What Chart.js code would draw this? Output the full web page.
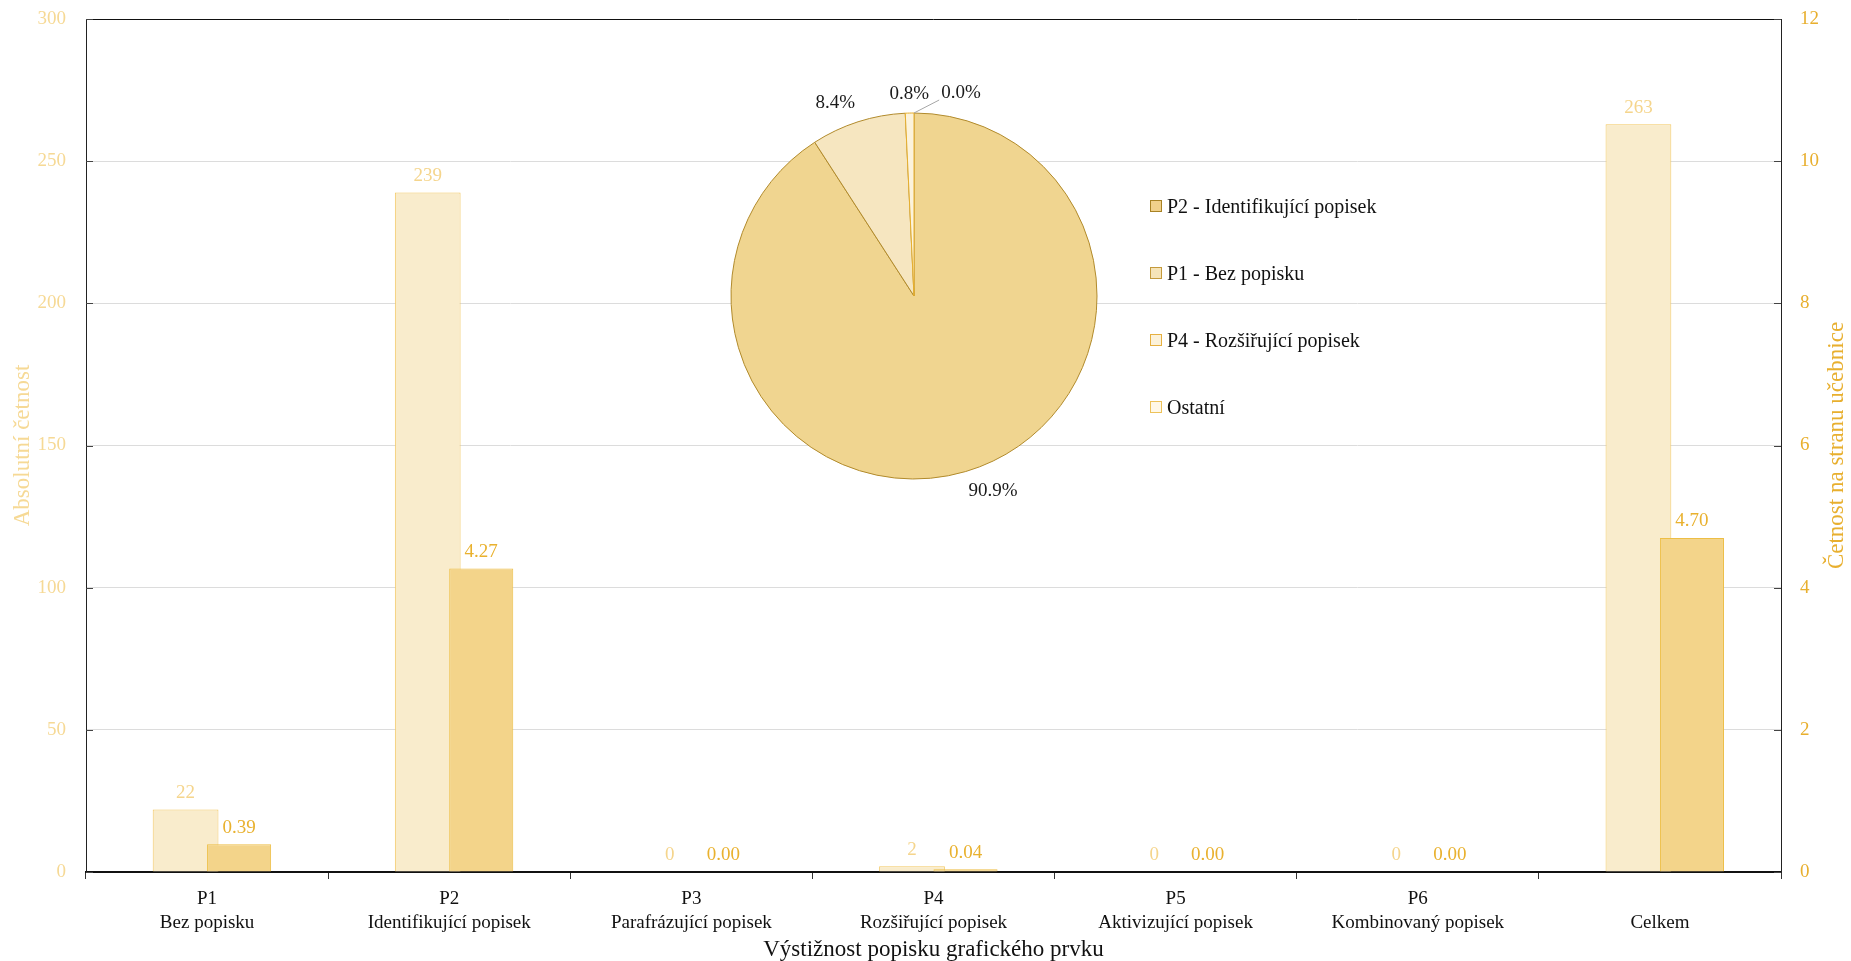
<!DOCTYPE html>
<html lang="cs">
<head>
<meta charset="utf-8">
<title>Výstižnost popisku grafického prvku</title>
<script src="https://cdn.jsdelivr.net/npm/chart.js@4.4.1/dist/chart.umd.min.js"></script>
<style>
    html, body { margin: 0; padding: 0; background: #fff; }
    #wrap { position: relative; width: 1851px; height: 961px; }
    #main { position: absolute; left: 0; top: 0; }
    #pie { position: absolute; left: 700px; top: 60px; }
    #pie-legend {
        position: absolute; left: 1150px; top: 194px;
        font-family: 'Liberation Serif', 'Times New Roman', serif;
        font-size: 20px; color: #111;
    }
    .legend-item { display: flex; align-items: center; height: 24px; margin-bottom: 43px; white-space: nowrap; }
    .legend-box { width: 12px; height: 12px; box-sizing: border-box; border: 1px solid; margin-right: 5px; }
</style>
</head>
<body>
<div id="wrap">
    <canvas id="main" width="1851" height="961"></canvas>
    <canvas id="pie" width="430" height="470"></canvas>
    <div id="pie-legend"></div>
</div>
<script>
/* ===== Data ===== */
const categories = [
    ['P1', 'Bez popisku'],
    ['P2', 'Identifikující popisek'],
    ['P3', 'Parafrázující popisek'],
    ['P4', 'Rozšiřující popisek'],
    ['P5', 'Aktivizující popisek'],
    ['P6', 'Kombinovaný popisek'],
    ['', 'Celkem']
];
const absoluteCounts = [22, 239, 0, 2, 0, 0, 263];
const perPageCounts = [0.39, 4.27, 0.00, 0.04, 0.00, 0.00, 4.70];

const pieLabels = ['P2 - Identifikující popisek', 'P1 - Bez popisku', 'P4 - Rozšiřující popisek', 'Ostatní'];
const pieValues = [239, 22, 2, 0];

/* ===== Styles ===== */
const FONT = "'Liberation Serif', 'Times New Roman', serif";
const LIGHT_FILL = '#F9ECCC';
const LIGHT_BORDER = '#F2C862';
const DARK_FILL = '#F3D48A';
const DARK_BORDER = '#EDBE45';
const LEFT_TEXT = '#F6D995';
const RIGHT_TEXT = '#E8AF2E';

const PIE_FILLS = ['#F0D590', '#F6E6C0', '#FCF3DC', '#FFF9EE'];
const PIE_BORDERS = ['#B18A2B', '#B18A2B', '#E6AE2C', '#E6AE2C'];
const LEGEND_FILLS = ['#F0D08A', '#F6E4B8', '#FCF2DA', '#FFF8E8'];
const LEGEND_BORDERS = ['#A88224', '#C49A3C', '#E6B040', '#EDC25A'];

Chart.defaults.font.family = FONT;

// Per-page bars overlap the absolute ones, so paint them last; then the value labels
const barExtras = {
    id: 'barExtras',
    beforeDatasetDraw(chart, args) {
        if (args.index === 1) return false;
    },
    afterDatasetsDraw(chart) {
        const ctx = chart.ctx;
        chart.getDatasetMeta(1).controller.draw();

        ctx.save();
        ctx.font = `19px ${FONT}`;
        ctx.textAlign = 'center';
        ctx.textBaseline = 'bottom';
        chart.data.datasets.forEach((ds, di) => {
            const meta = chart.getDatasetMeta(di);
            ctx.fillStyle = di === 0 ? '#F5D58C' : '#E9B12E';
            meta.data.forEach((bar, i) => {
                const v = ds.data[i];
                const text = di === 0 ? String(v) : v.toFixed(2);
                ctx.fillText(text, bar.x, bar.y - 7);
            });
        });
        ctx.restore();
    },
    afterDraw(chart) {
        const ctx = chart.ctx;
        const area = chart.chartArea;
        ctx.save();

        // top frame line
        ctx.strokeStyle = '#111';
        ctx.lineWidth = 1;
        ctx.beginPath();
        ctx.moveTo(area.left, area.top + 0.5);
        ctx.lineTo(area.right, area.top + 0.5);
        ctx.stroke();

        // inner tick marks on both value axes
        ctx.strokeStyle = '#444';
        ['y', 'y1'].forEach(id => {
            const scale = chart.scales[id];
            scale.ticks.forEach((t, i) => {
                const py = Math.round(scale.getPixelForTick(i)) + 0.5;
                ctx.beginPath();
                if (id === 'y') {
                    ctx.moveTo(area.left, py);
                    ctx.lineTo(area.left + 7, py);
                } else {
                    ctx.moveTo(area.right - 7, py);
                    ctx.lineTo(area.right, py);
                }
                ctx.stroke();
            });
        });

        // right axis title, reading bottom-to-top like the left one
        const y1 = chart.scales.y1;
        ctx.translate(y1.right - 14, (area.top + area.bottom) / 2);
        ctx.rotate(-Math.PI / 2);
        ctx.font = `23px ${FONT}`;
        ctx.fillStyle = RIGHT_TEXT;
        ctx.textAlign = 'center';
        ctx.textBaseline = 'middle';
        ctx.fillText('Četnost na stranu učebnice', 0, 0);
        ctx.restore();
    }
};

// fixed axis widths; the tick padding must not leak into the plot's top margin
const fixWidth = (w) => (scale) => {
    scale.width = w;
    scale.paddingTop = 0;
    scale.paddingBottom = 0;
};

new Chart(document.getElementById('main'), {
    type: 'bar',
    data: {
        labels: categories,
        datasets: [
            {
                label: 'Absolutní četnost',
                data: absoluteCounts,
                yAxisID: 'y',
                backgroundColor: LIGHT_FILL,
                borderColor: LIGHT_BORDER,
                borderWidth: 1,
                categoryPercentage: 0.355,
                barPercentage: 1.53
            },
            {
                label: 'Četnost na stranu učebnice',
                data: perPageCounts,
                yAxisID: 'y1',
                backgroundColor: DARK_FILL,
                borderColor: DARK_BORDER,
                borderWidth: 1,
                categoryPercentage: 0.529,
                barPercentage: 1.0
            }
        ]
    },
    options: {
        responsive: false,
        devicePixelRatio: 1,
        animation: false,
        layout: { padding: { top: 19, left: 0, right: 0, bottom: 0 } },
        plugins: {
            legend: { display: false },
            tooltip: { enabled: false }
        },
        scales: {
            x: {
                grid: { offset: true, drawOnChartArea: false, drawTicks: true, tickLength: 7, color: '#333' },
                border: { color: '#111', width: 2 },
                ticks: { color: '#111', font: { size: 19, lineHeight: 1.25 }, padding: 8, maxRotation: 0, autoSkip: false },
                title: {
                    display: true,
                    text: 'Výstižnost popisku grafického prvku',
                    color: '#111',
                    font: { size: 23, lineHeight: 1.0 },
                    padding: { top: 0, bottom: 0 }
                },
                afterFit(scale) { scale.height = 89; }
            },
            y: {
                position: 'left',
                min: 0,
                max: 300,
                ticks: { stepSize: 50, color: LEFT_TEXT, font: { size: 19 }, padding: 20 },
                grid: { color: '#DCDCDC', drawTicks: false },
                border: { color: '#222', width: 1 },
                title: {
                    display: true,
                    text: 'Absolutní četnost',
                    color: LEFT_TEXT,
                    font: { size: 23 },
                    padding: { top: 9, bottom: 0 }
                },
                afterFit: fixWidth(86)
            },
            y1: {
                position: 'right',
                min: 0,
                max: 12,
                ticks: { stepSize: 2, color: RIGHT_TEXT, font: { size: 19 }, padding: 19 },
                grid: { drawOnChartArea: false, drawTicks: false },
                border: { color: '#222', width: 1 },
                afterFit: fixWidth(70)
            }
        }
    },
    plugins: [barExtras]
});

/* ===== Inset pie ===== */
const pieTotal = pieValues.reduce((a, b) => a + b, 0);

const pieLabelsPlugin = {
    id: 'pieLabels',
    afterDatasetsDraw(chart) {
        const ctx = chart.ctx;
        const meta = chart.getDatasetMeta(0);
        const placed = [];
        ctx.save();
        ctx.font = `19px ${FONT}`;
        meta.data.forEach((arc, i) => {
            const {x, y, startAngle, endAngle, outerRadius} = arc.getProps(['x', 'y', 'startAngle', 'endAngle', 'outerRadius'], true);
            const mid = (startAngle + endAngle) / 2;
            const cos = Math.cos(mid), sin = Math.sin(mid);
            const r = outerRadius + 10;
            const ax = x + cos * r;
            const ay = y + sin * r;
            const text = (pieValues[i] / pieTotal * 100).toFixed(1) + '%';
            const w = ctx.measureText(text).width;

            let left;
            if (Math.abs(cos) < 0.15) left = ax - w / 2;
            else if (cos > 0) left = ax;
            else left = ax - w;

            let leader = false;
            placed.forEach(b => {
                if (left < b.right && left + w > b.left && Math.abs(ay - b.y) < 20) {
                    left = b.right + 12;
                    leader = true;
                }
            });
            placed.push({ left, right: left + w, y: ay });

            if (leader) {
                ctx.strokeStyle = '#A6A6A6';
                ctx.lineWidth = 1;
                ctx.beginPath();
                ctx.moveTo(x + cos * outerRadius, y + sin * outerRadius);
                ctx.lineTo(left - 2, ay - 3);
                ctx.stroke();
            }

            ctx.fillStyle = '#1a1a1a';
            ctx.textAlign = 'left';
            ctx.textBaseline = sin < 0 ? 'bottom' : 'top';
            ctx.fillText(text, left, ay);
        });
        ctx.restore();
    }
};

new Chart(document.getElementById('pie'), {
    type: 'pie',
    data: {
        labels: pieLabels,
        datasets: [{
            data: pieValues,
            backgroundColor: PIE_FILLS,
            borderColor: PIE_BORDERS,
            borderWidth: 1
        }]
    },
    options: {
        responsive: false,
        devicePixelRatio: 1,
        animation: false,
        layout: { padding: { left: 30.5, right: 32.5, top: 52.5, bottom: 50.5 } },
        plugins: {
            legend: { display: false },
            tooltip: { enabled: false }
        }
    },
    plugins: [pieLabelsPlugin]
});

// Custom legend
document.getElementById('pie-legend').innerHTML = pieLabels.map((label, i) => `
    <div class="legend-item">
        <span class="legend-box" style="background:${LEGEND_FILLS[i]};border-color:${LEGEND_BORDERS[i]}"></span>
        <span>${label}</span>
    </div>
`).join('');
</script>
</body>
</html>
